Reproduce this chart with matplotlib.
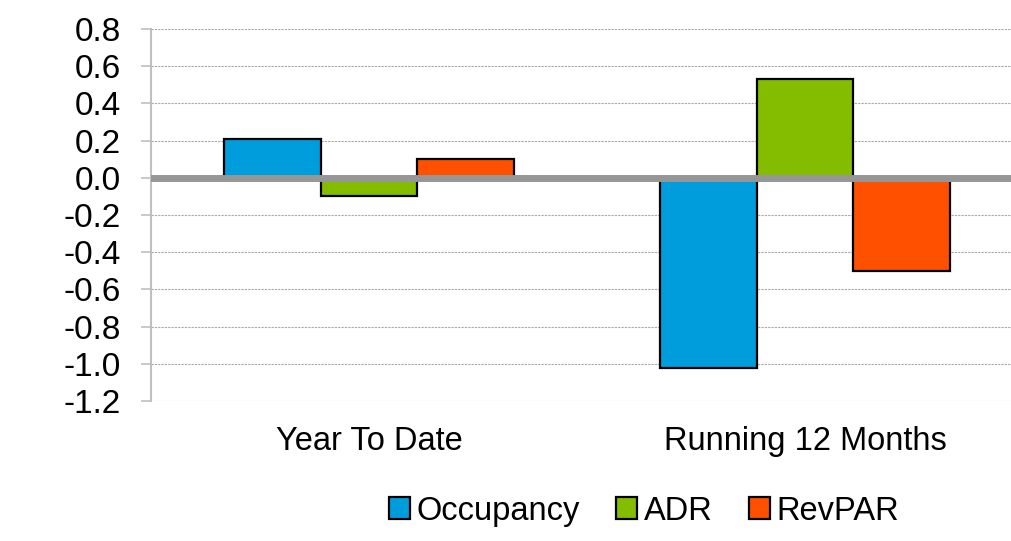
import numpy as np
import matplotlib
matplotlib.use("Agg")
import matplotlib.pyplot as plt

plt.rcParams['font.family'] = ['Liberation Sans', 'DejaVu Sans']

# data
categories = ["Year To Date", "Running 12 Months"]
series_names = ["Occupancy", "ADR", "RevPAR"]
occupancy = [0.21, -1.02]
adr = [-0.10, 0.53]
revpar = [0.10, -0.50]
colors = ["#009ddc", "#84bc00", "#ff5000"]

fig = plt.figure(figsize=(10.11, 5.41), dpi=100)
ax = fig.add_axes([0.1494, 0.2588, 0.8625, 0.6876])

x = np.arange(len(categories))
width = 1 / 4.5
for i, (name, vals) in enumerate(zip(series_names, [occupancy, adr, revpar])):
    ax.bar(x + (i - 1) * width, vals, width, color=colors[i],
           edgecolor='black', linewidth=1.6, label=name, zorder=2)

# zero line
ax.axhline(0, color='#969696', linewidth=5, zorder=3)

ax.set_xlim(-0.5, 1.5)
ax.set_ylim(-1.2, 0.8)
yt = np.round(np.arange(-1.2, 0.81, 0.2), 1)
ax.set_yticks(yt)
ax.set_yticklabels(["%.1f" % (v + 0.0) for v in yt])
ax.yaxis.grid(True, linestyle=(0, (2, 1)), color='#a8a8a8', linewidth=0.8, zorder=0)
ax.set_axisbelow(True)

ax.set_xticks(x)
ax.set_xticklabels(categories, fontsize=23.5)
ax.tick_params(axis='x', length=0, pad=18)
ax.tick_params(axis='y', labelsize=24, length=7.5, width=1.2, color='#bfbfbf', pad=14)

for s in ['top', 'right', 'bottom']:
    ax.spines[s].set_visible(False)
ax.spines['left'].set_color('#bfbfbf')
ax.spines['left'].set_linewidth(1.5)

fig.legend(loc='center', bbox_to_anchor=(0.637, 0.055), ncol=3, frameon=False,
           fontsize=23.5, handlelength=0.65, handleheight=0.65, handletextpad=0.2,
           columnspacing=1.1)

fig.savefig("out.png", dpi=100)
